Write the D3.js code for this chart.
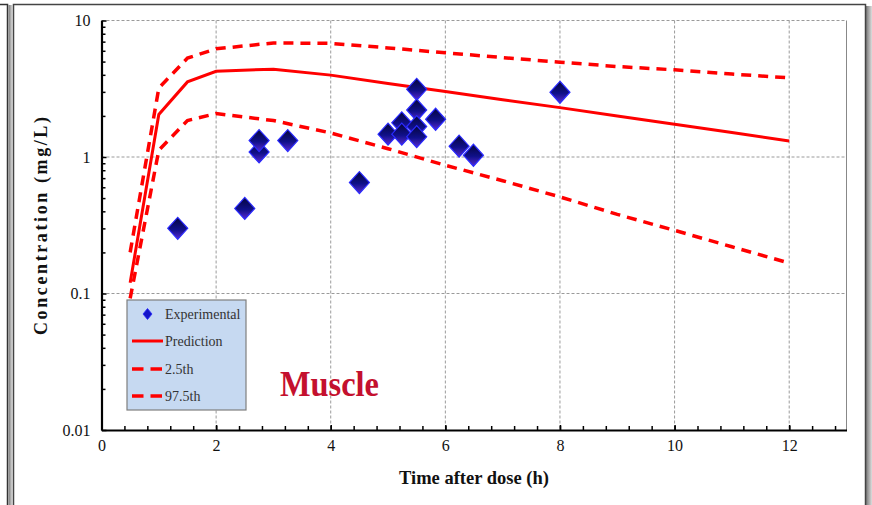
<!DOCTYPE html>
<html><head><meta charset="utf-8">
<script src="https://cdn.jsdelivr.net/npm/d3@7"></script>
<style>body{margin:0;background:#fff}svg{display:block}</style>
</head><body><svg id="c" width="872" height="505"></svg>
<script>
// ---- data ----
const predTime = [0.5, 1, 1.5, 2, 3, 4, 5, 6, 7, 8, 9, 10, 11, 12];
const prediction = [0.12, 2.05, 3.55, 4.25, 4.4, 3.98, 3.45, 3.02, 2.63, 2.3, 2.0, 1.74, 1.51, 1.31];
const upper975 = [0.2, 3.2, 5.3, 6.2, 6.85, 6.8, 6.3, 5.8, 5.35, 4.95, 4.6, 4.35, 4.05, 3.8];
const lower25 = [0.092, 1.12, 1.85, 2.08, 1.85, 1.5, 1.15, 0.87, 0.67, 0.51, 0.38, 0.29, 0.22, 0.167];
const expTime = [1.33, 2.5, 2.75, 2.75, 3.25, 4.5, 5.0, 5.24, 5.24, 5.5, 5.5, 5.5, 5.5, 5.83, 6.24, 6.49, 8.0];
const expConc = [0.30, 0.42, 1.09, 1.32, 1.32, 0.65, 1.47, 1.78, 1.47, 3.13, 2.21, 1.67, 1.41, 1.89, 1.2, 1.03, 2.98];
const xTicks = [0, 2, 4, 6, 8, 10, 12];
const yTicks = [0.01, 0.1, 1, 10];
const yTickLabels = ["0.01", "0.1", "1", "10"];
const legendLabels = ["Experimental", "Prediction", "2.5th", "97.5th"];

const svg = d3.select("#c");
const defs = svg.append("defs");
const g1 = defs.append("linearGradient").attr("id","dg").attr("x1",0).attr("y1",0).attr("x2",0).attr("y2",1);
g1.append("stop").attr("offset","0%").attr("stop-color","#05053a");
g1.append("stop").attr("offset","55%").attr("stop-color","#10108a");
g1.append("stop").attr("offset","100%").attr("stop-color","#5a2ad0");
const sg = defs.append("linearGradient").attr("id","sh").attr("x1",0).attr("y1",0).attr("x2",1).attr("y2",0);
sg.append("stop").attr("offset","0%").attr("stop-color","#777");
sg.append("stop").attr("offset","100%").attr("stop-color","#ddd");

// ---- frames ----
svg.append("rect").attr("x",-20).attr("y",4.5).attr("width",27.5).attr("height",520).attr("fill","#fff").attr("stroke","#333").attr("stroke-width",1.5);
svg.append("rect").attr("x",8.5).attr("y",5).attr("width",4).attr("height",520).attr("fill","url(#sh)");
svg.append("rect").attr("x",866).attr("y",6).attr("width",6).attr("height",520).attr("fill","url(#sh)");
svg.append("rect").attr("x",13.5).attr("y",4.5).attr("width",852).attr("height",520).attr("fill","#fff").attr("stroke","#444").attr("stroke-width",1.5);

// ---- scales ----
const x = d3.scaleLinear().domain([0, 13]).range([101.5, 846.5]);
const y = d3.scaleLog().domain([0.01, 10]).range([430, 20.5]);

// grid
const grid = svg.append("g").attr("stroke","#9a9a9a").attr("stroke-width",1).attr("stroke-dasharray","3,2");
xTicks.filter(d => d > 0).forEach(d => grid.append("line").attr("x1",x(d)).attr("x2",x(d)).attr("y1",y(10)).attr("y2",y(0.01)));
yTicks.filter(d => d > 0.01).forEach(d => grid.append("line").attr("x1",x(0)).attr("x2",x(13)).attr("y1",y(d)).attr("y2",y(d)));
svg.append("line").attr("x1",x(13)).attr("x2",x(13)).attr("y1",y(10)).attr("y2",y(0.01)).attr("stroke","#888").attr("stroke-width",1);

// ---- axes ----
const minorY = [];
[0.01, 0.1, 1].forEach(b => { for (let k = 2; k <= 9; k++) minorY.push(b * k); });
const minorX = d3.range(0.4, 13, 0.4);

const yAx = svg.append("g").attr("transform",`translate(${x(0)},0)`)
  .call(d3.axisLeft(y).tickValues(yTicks).tickFormat((d,i) => yTickLabels[i]).tickSize(-5).tickSizeOuter(0).tickPadding(11));
svg.append("g").attr("transform",`translate(${x(0)},0)`)
  .call(d3.axisLeft(y).tickValues(minorY).tickFormat("").tickSize(-4).tickSizeOuter(0))
  .select(".domain").remove();
const xAx = svg.append("g").attr("transform",`translate(0,${y(0.01)})`)
  .call(d3.axisBottom(x).tickValues(xTicks).tickSize(-5).tickSizeOuter(0).tickPadding(10));
svg.append("g").attr("transform",`translate(0,${y(0.01)})`)
  .call(d3.axisBottom(x).tickValues(minorX).tickFormat("").tickSize(-4).tickSizeOuter(0))
  .select(".domain").remove();
svg.selectAll(".domain").attr("stroke","#000").attr("stroke-width",2.2);
svg.selectAll(".tick line").attr("stroke","#000").attr("stroke-width",1.5);
svg.selectAll(".tick text").attr("font-family","Liberation Serif").attr("font-size",16).attr("fill","#111");

// axis titles
svg.append("text").attr("x",474).attr("y",484).attr("text-anchor","middle")
  .attr("font-family","Liberation Serif").attr("font-weight","bold").attr("font-size",19).attr("fill","#111")
  .attr("textLength",150).attr("lengthAdjust","spacingAndGlyphs").text("Time after dose (h)");
svg.append("text").attr("transform","translate(47,226) rotate(-90)").attr("text-anchor","middle")
  .attr("font-family","Liberation Serif").attr("font-weight","bold").attr("font-size",18).attr("fill","#111")
  .attr("textLength",218).attr("lengthAdjust","spacing").text("Concentration (mg/L)");

// ---- lines ----
const line = d3.line().x((d,i) => x(predTime[i])).y(d => y(d));
svg.append("path").datum(upper975).attr("d",line).attr("fill","none").attr("stroke","#ff0000").attr("stroke-width",3.5).attr("stroke-dasharray","10,7");
svg.append("path").datum(lower25).attr("d",line).attr("fill","none").attr("stroke","#ff0000").attr("stroke-width",3.5).attr("stroke-dasharray","10,7");
svg.append("path").datum(prediction).attr("d",line).attr("fill","none").attr("stroke","#ff0000").attr("stroke-width",3);

// ---- points ----
const diamond = (w, h) => `M0,${-h/2}L${w/2},0L0,${h/2}L${-w/2},0Z`;
svg.append("g").selectAll("path").data(expConc).join("path")
  .attr("transform",(d,i) => `translate(${x(expTime[i])},${y(d)})`)
  .attr("d", diamond(20, 22)).attr("fill","url(#dg)").attr("stroke","#2a2aff").attr("stroke-width",1.2);

// ---- legend ----
const lg = svg.append("g");
lg.append("rect").attr("x",127).attr("y",300).attr("width",119).attr("height",110).attr("fill","#c6d9f1").attr("stroke","#7f7f7f").attr("stroke-width",1.2);
const ly = [314, 341, 369, 396];
lg.append("path").attr("transform",`translate(147.5,${ly[0]})`).attr("d",diamond(9,11)).attr("fill","#1515c8").attr("stroke","#2a2aff").attr("stroke-width",0.8);
lg.append("line").attr("x1",132).attr("x2",163).attr("y1",ly[1]).attr("y2",ly[1]).attr("stroke","#ff0000").attr("stroke-width",3);
[2,3].forEach(i => lg.append("line").attr("x1",132).attr("x2",163).attr("y1",ly[i]).attr("y2",ly[i]).attr("stroke","#ff0000").attr("stroke-width",3.5).attr("stroke-dasharray","11.5,7"));
legendLabels.forEach((t,i) => lg.append("text").attr("x",165).attr("y",ly[i]+5).attr("font-family","Liberation Serif").attr("font-size",14).attr("fill","#333").text(t));

// ---- panel title ----
svg.append("text").attr("x",280).attr("y",396).attr("font-family","Liberation Serif").attr("font-weight","bold")
  .attr("font-size",36).attr("fill","#c4102e").attr("textLength",99).attr("lengthAdjust","spacingAndGlyphs").text("Muscle");
</script></body></html>
